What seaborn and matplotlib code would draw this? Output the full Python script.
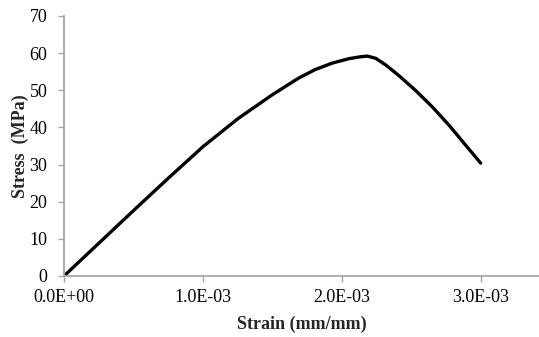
import matplotlib
matplotlib.use("Agg")
import matplotlib.pyplot as plt
import seaborn as sns
import pandas as pd

strain = [0.0, 0.25e-3, 0.5e-3, 0.75e-3, 1.0e-3, 1.25e-3, 1.5e-3, 1.69e-3, 1.81e-3,
          1.93e-3, 2.05e-3, 2.13e-3, 2.185e-3, 2.245e-3, 2.317e-3, 2.41e-3, 2.53e-3,
          2.65e-3, 2.77e-3, 2.89e-3, 3.0e-3]
stress = [0.0, 8.8, 17.6, 26.3, 34.8, 42.3, 48.8, 53.3, 55.6,
          57.3, 58.5, 59.0, 59.2, 58.6, 56.8, 54.0, 50.0,
          45.6, 40.7, 35.3, 30.4]
x_ticks = [0.0, 1.0e-3, 2.0e-3, 3.0e-3]
x_tick_labels = ["0.0E+00", "1.0E-03", "2.0E-03", "3.0E-03"]
y_ticks = [0, 10, 20, 30, 40, 50, 60, 70]

df = pd.DataFrame({"strain": strain, "stress": stress})

sns.set_style("white")
plt.rcParams["font.family"] = ["Liberation Serif", "DejaVu Serif"]

fig = plt.figure(figsize=(5.39, 3.37), dpi=100)
ax = fig.add_axes([64/539, 1 - 276/337, (539 - 64)/539, (276 - 16)/337])

sns.lineplot(data=df, x="strain", y="stress", sort=False, color="black",
             linewidth=2.4, ax=ax, solid_capstyle="round", solid_joinstyle="round")

ax.set_xlim(0, 3.42e-3)
ax.set_ylim(0, 70)
ax.set_xticks(x_ticks)
ax.set_xticklabels(x_tick_labels)
ax.set_yticks(y_ticks)

for s in ["top", "right"]:
    ax.spines[s].set_visible(False)
for s in ["left", "bottom"]:
    ax.spines[s].set_color("#a6a6a6")
    ax.spines[s].set_linewidth(1.3)

ax.tick_params(axis="both", which="major", direction="out", length=4, width=1,
               color="#a6a6a6", labelsize=13, labelcolor="black",
               bottom=True, left=True)
ax.tick_params(axis="x", pad=5)
ax.tick_params(axis="y", pad=8)

ax.set_xlabel("Strain (mm/mm)", fontsize=13, fontweight="bold", labelpad=7)
ax.set_ylabel("Stress  (MPa)", fontsize=13, fontweight="bold", labelpad=0)

fig.savefig("out.png", dpi=100)
